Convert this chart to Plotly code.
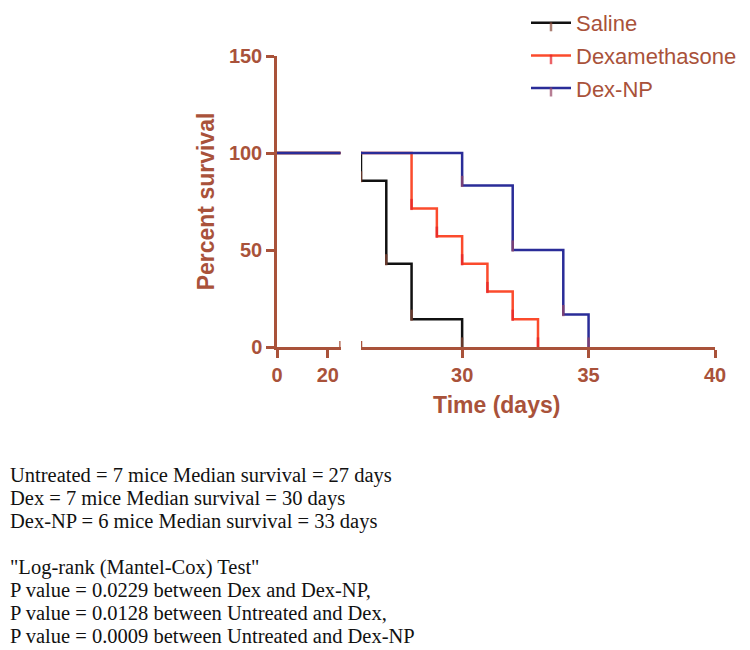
import plotly.graph_objects as go

# ---- data ----
series_names = ["Saline", "Dexamethasone", "Dex-NP"]
days_saline = [0, 26, 27, 28, 30]
surv_saline = [100, 85.7, 42.9, 14.3, 0]
days_dex = [0, 28, 29, 30, 31, 32, 33]
surv_dex = [100, 71.4, 57.1, 42.9, 28.6, 14.3, 0]
days_dexnp = [0, 30, 32, 34, 35]
surv_dexnp = [100, 83.3, 50, 16.7, 0]

y_ticks = [0, 50, 100, 150]
x_ticks_left = [0, 20]
x_ticks_right = [30, 35, 40]
left_range = [0, 25]
right_range = [26, 40]
y_range = [0, 150]

note_lines = [
    "Untreated = 7 mice Median survival = 27 days",
    "Dex = 7 mice Median survival = 30 days",
    "Dex-NP = 6 mice Median survival = 33 days",
    "",
    "\"Log-rank (Mantel-Cox) Test\"",
    "P value = 0.0229 between Dex and Dex-NP,",
    "P value = 0.0128 between Untreated and Dex,",
    "P value = 0.0009 between Untreated and Dex-NP",
]

# ---- style ----
PAGE_OFF = 8            # default body margin of the html page
W, H = 750 - PAGE_OFF, 650 - PAGE_OFF
BROWN = "#a9523a"
line_colors = ["#111111", "#fb4b2c", "#2a2c98"]
tick_colors = ["#8a4a38", "#e42228", "#9a4868"]
SANS = "Liberation Sans"
SERIF = "Liberation Serif"
TICK_SIZE = 8

def fx(px):
    return (px - PAGE_OFF) / W

def fy(py):
    return 1 - (py - PAGE_OFF) / H

left_dom = [fx(277), fx(340.5)]
right_dom = [fx(361), fx(715)]
y_dom = [fy(347), fy(56)]

fig = go.Figure()

data = [(days_saline, surv_saline), (days_dex, surv_dex), (days_dexnp, surv_dexnp)]
for i, (name, (d, s)) in enumerate(zip(series_names, data)):
    n = len(d)
    sizes = [0] + [TICK_SIZE] * (n - 1)   # no tick at the start point
    for xa, show in (("x", False), ("x2", True)):
        fig.add_trace(go.Scatter(
            x=d, y=s, name=name, mode="lines+markers",
            line=dict(color=line_colors[i], width=2.5, shape="hv"),
            marker=dict(symbol="line-ns", size=sizes, angle=180,
                        standoff=TICK_SIZE / 2,
                        line=dict(color=tick_colors[i], width=2.5),
                        color=tick_colors[i]),
            xaxis=xa, yaxis="y", showlegend=show,
            legendgroup=name,
        ))

axis_common = dict(
    showline=True, linecolor=BROWN, linewidth=2.5,
    ticks="outside", ticklen=8, tickwidth=2.5, tickcolor=BROWN,
    showgrid=False, zeroline=False, layer="above traces",
    tickfont=dict(family=SANS, size=20, color=BROWN, weight="bold"),
)

fig.update_layout(
    width=W, height=H, autosize=False,
    margin=dict(l=0, r=0, t=0, b=0, autoexpand=False),
    paper_bgcolor="white", plot_bgcolor="white",
    xaxis=dict(domain=left_dom, range=left_range, tickvals=x_ticks_left,
               anchor="y", **axis_common),
    xaxis2=dict(domain=right_dom, range=right_range, tickvals=x_ticks_right,
                anchor="y", **axis_common),
    yaxis=dict(domain=y_dom, range=y_range, tickvals=y_ticks, anchor="x",
               title=dict(text="Percent survival", standoff=8,
                          font=dict(family=SANS, size=23, color=BROWN, weight="bold")),
               **axis_common),
    legend=dict(x=fx(526), y=fy(2), xanchor="left", yanchor="top",
                font=dict(family=SANS, size=22, color=BROWN),
                tracegroupgap=1, itemwidth=40, bgcolor="rgba(0,0,0,0)"),
    showlegend=True,
)

# axis break caps
for xref, xv in (("x", left_range[1]), ("x2", right_range[0])):
    fig.add_shape(type="line", xref=xref, yref="y", x0=xv, x1=xv,
                  ysizemode="pixel", yanchor=y_range[0], y0=-6, y1=6,
                  line=dict(color=BROWN, width=2.5))

# x axis title spanning both segments
fig.add_annotation(text="Time (days)", xref="paper", yref="paper",
                   x=(left_dom[0] + right_dom[1]) / 2, y=fy(405),
                   xanchor="center", yanchor="middle", showarrow=False,
                   font=dict(family=SANS, size=23, color=BROWN, weight="bold"))

# notes
y0_px, step_px = 475, 23
for k, t in enumerate(note_lines):
    if not t:
        continue
    fig.add_annotation(text=t, xref="paper", yref="paper",
                       x=0, y=fy(y0_px + k * step_px),
                       xanchor="left", yanchor="middle", showarrow=False,
                       font=dict(family=SERIF, size=20.5, color="#111111"))

fig.write_html("out.html")
